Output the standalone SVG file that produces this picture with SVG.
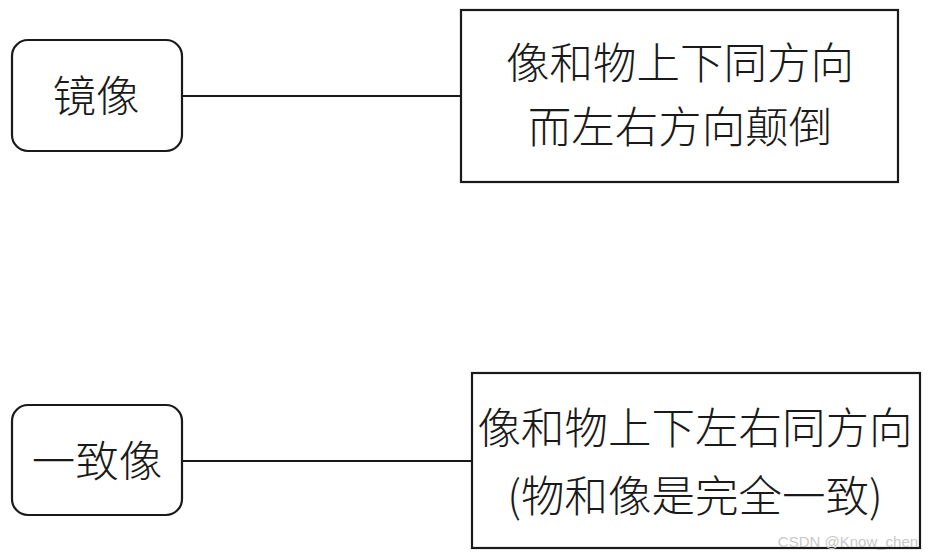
<svg xmlns="http://www.w3.org/2000/svg" width="930" height="557" viewBox="0 0 930 557">
<style>
.box{fill:#fff;stroke:#1a1a1a;stroke-width:2.2}
.t{font-family:"Noto Sans CJK SC","Noto Sans",sans-serif;font-size:43.5px;font-weight:300;fill:#1a1a1a;text-anchor:middle;dominant-baseline:central}
.edge{stroke:#1a1a1a;stroke-width:2;fill:none}
</style>
<rect width="930" height="557" fill="#fff"/>
<g id="connectors">
<line class="edge" x1="182" y1="96" x2="461" y2="96"/>
<line class="edge" x1="182" y1="461" x2="472" y2="461"/>
</g>
<g id="n-mirror">
<rect class="box" x="12" y="40" width="170" height="111" rx="16"/>
<text class="t" x="96" y="93">镜像</text>
</g>
<g id="n-mirror-desc">
<rect class="box" x="461" y="10" width="437" height="172"/>
<text class="t" x="680" y="60">像和物上下同方向</text>
<text class="t" x="680" y="124">而左右方向颠倒</text>
</g>
<g id="n-same">
<rect class="box" x="12" y="405" width="170" height="110" rx="16"/>
<text class="t" x="97" y="458">一致像</text>
</g>
<g id="n-same-desc">
<rect class="box" x="472" y="373" width="448" height="175"/>
<text class="t" x="695" y="425">像和物上下左右同方向</text>
<text class="t" x="695" y="493">(物和像是完全一致)</text>
</g>
<text x="848" y="547" font-family="Liberation Sans, Arial, sans-serif" font-size="15" fill="#c8c8c8" text-anchor="middle">CSDN @Know_chen</text>
</svg>
